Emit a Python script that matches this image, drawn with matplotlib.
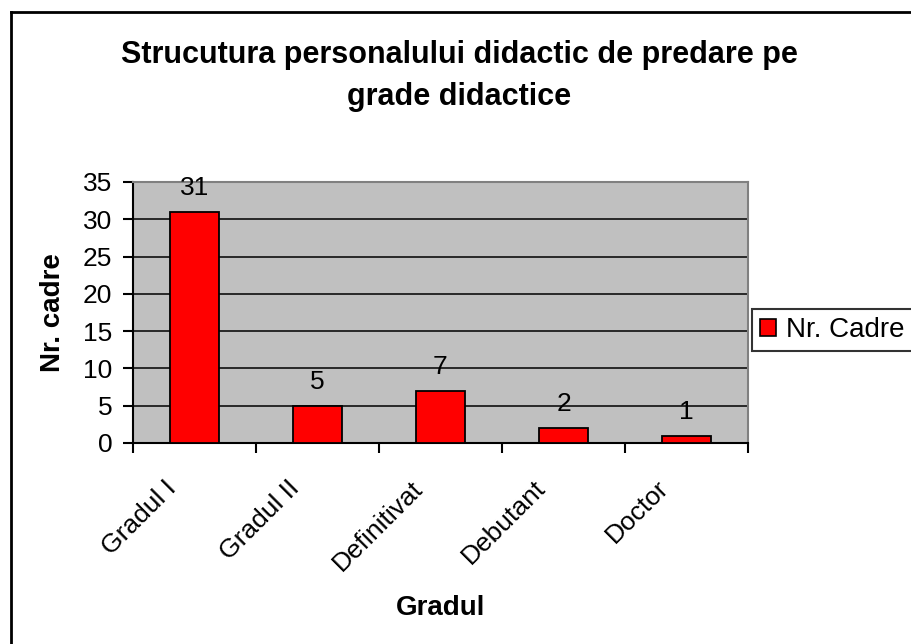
import matplotlib
matplotlib.use("Agg")
import matplotlib.pyplot as plt
import matplotlib.transforms as mtransforms
from matplotlib.lines import Line2D
from matplotlib.patches import Patch

# data
categories = ["Gradul I", "Gradul II", "Definitivat", "Debutant", "Doctor"]
values = [31, 5, 7, 2, 1]
yticks = [0, 5, 10, 15, 20, 25, 30, 35]
series_name = "Nr. Cadre"

plt.rcParams['font.family'] = ['Liberation Sans', 'DejaVu Sans']

fig = plt.figure(figsize=(9.11, 6.44), dpi=100)
fig.patch.set_facecolor("white")

# outer chart frame (only left and top visible in the reference)
fig.add_artist(Line2D([11/911, 11/911], [0, 1 - 12/644], color="black", lw=2,
                      transform=fig.transFigure))
fig.add_artist(Line2D([11/911, 1], [1 - 12/644, 1 - 12/644], color="black", lw=2,
                      transform=fig.transFigure))

ax = fig.add_axes([133/911, 201/644, 615/911, 261/644])
ax.set_facecolor("#c0c0c0")

x = list(range(len(categories)))
ax.bar(x, values, width=0.4, color="#ff0000", edgecolor="black", linewidth=1.3, zorder=3)

ax.set_xlim(-0.5, len(categories) - 0.5)
ax.set_ylim(0, 35)
ax.set_yticks(yticks)
ax.set_yticklabels([str(t) for t in yticks], fontsize=19)
for t in yticks[1:-1]:
    ax.axhline(t, color="black", lw=1.1, zorder=1)

# x ticks at category boundaries, labels at centers
ax.set_xticks([i - 0.5 for i in range(len(categories) + 1)])
ax.set_xticklabels([])
ax.set_xticks(x, minor=True)
ax.set_xticklabels(categories, minor=True, fontsize=19, rotation=45,
                   ha="right", va="top", rotation_mode="anchor")
ax.tick_params(axis="x", which="minor", length=0, pad=0)
offset = mtransforms.ScaledTranslation(-30/100, -33/100, fig.dpi_scale_trans)
for lbl in ax.get_xticklabels(minor=True):
    lbl.set_transform(lbl.get_transform() + offset)

ax.tick_params(axis="both", which="major", direction="out", length=7, width=1.5, colors="black")
ax.tick_params(axis="y", pad=8)

for side in ["top", "right"]:
    ax.spines[side].set_color("#808080")
    ax.spines[side].set_linewidth(1.5)
for side in ["left", "bottom"]:
    ax.spines[side].set_color("black")
    ax.spines[side].set_linewidth(1.5)

# value labels
for xi, v in zip(x, values):
    ax.text(xi, v + 1.6, str(v), ha="center", va="bottom", fontsize=19, zorder=4)

ax.set_ylabel("Nr. cadre", fontsize=20, fontweight="bold")
ax.yaxis.label.set_va("center")
ax.yaxis.set_label_coords(-80/615, 0.5)
ax.set_xlabel("Gradul", fontsize=20, fontweight="bold")
ax.xaxis.label.set_va("center")
ax.xaxis.set_label_coords(0.5, -165/261)

fig.text(459/911, 1 - 55/644, "Strucutura personalului didactic de predare pe",
         ha="center", va="center", fontsize=22, fontweight="bold")
fig.text(459/911, 1 - 97/644, "grade didactice",
         ha="center", va="center", fontsize=22, fontweight="bold")

handle = Patch(facecolor="#ff0000", edgecolor="black", linewidth=1.2)
leg = fig.legend([handle], [series_name], loc="center left",
                 bbox_to_anchor=(752/911, 1 - 330/644), fontsize=20,
                 frameon=True, fancybox=False, edgecolor="black",
                 handlelength=0.58, handleheight=0.58, handletextpad=0.36,
                 borderpad=0.3, borderaxespad=0)
leg.get_frame().set_linewidth(1.5)

fig.savefig("out.png", dpi=100, facecolor="white")
